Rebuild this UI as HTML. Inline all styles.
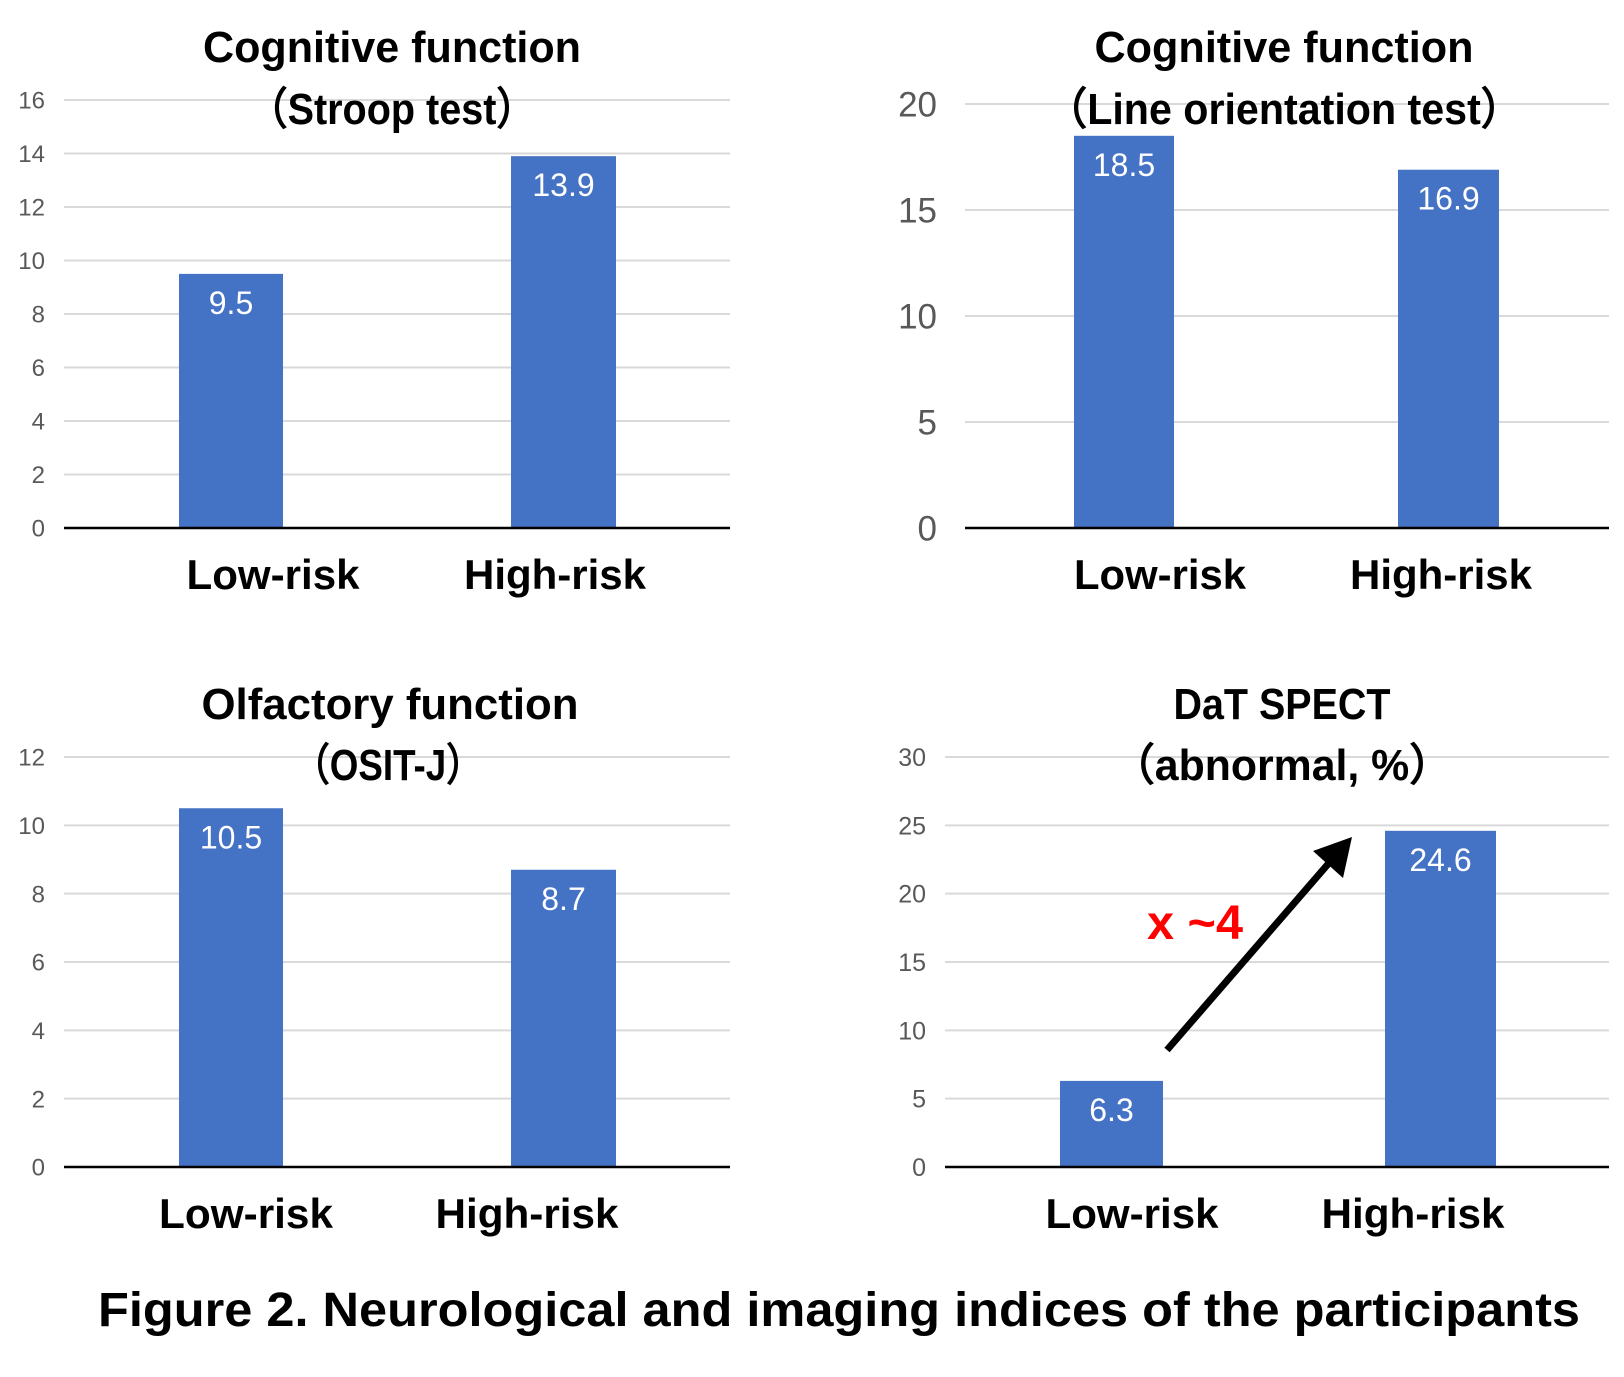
<!DOCTYPE html>
<html><head><meta charset="utf-8"><style>
body{margin:0;background:#fff;}
svg{display:block;font-family:"Liberation Sans",sans-serif;}
</style></head><body>
<svg id="fig" width="1624" height="1377" viewBox="0 0 1624 1377">
<g id="root"></g>
<text x="839" y="1326" text-anchor="middle" font-size="48" font-weight="bold" textLength="1482" lengthAdjust="spacingAndGlyphs" fill="#000">Figure 2. Neurological and imaging indices of the participants</text>
</svg>
<script>
const categories = ["Low-risk", "High-risk"];
const stroopValues = [9.5, 13.9];
const stroopTicks = [0, 2, 4, 6, 8, 10, 12, 14, 16];
const lineValues = [18.5, 16.9];
const lineTicks = [0, 5, 10, 15, 20];
const ositValues = [10.5, 8.7];
const ositTicks = [0, 2, 4, 6, 8, 10, 12];
const datValues = [6.3, 24.6];
const datTicks = [0, 5, 10, 15, 20, 25, 30];

const NS = "http://www.w3.org/2000/svg";
const root = document.getElementById("root");
function mk(tag, attrs, parent) {
  const e = document.createElementNS(NS, tag);
  for (const k in attrs) e.setAttribute(k, attrs[k]);
  (parent || root).appendChild(e);
  return e;
}
const panels = [
  {name:"stroop", values:stroopValues, ticks:stroopTicks, x0:64, x1:730, y0:528, yTop:100,
   bars:[[179,283],[511,616]], tickX:45, tickSize:24,
   titles:[["Cognitive function",392,62,378],["（Stroop test）",392,124,288]],
   cat:[[273,589,173],[555,589,182]], valSize:32},
  {name:"line-orientation", values:lineValues, ticks:lineTicks, x0:965, x1:1609, y0:528, yTop:104,
   bars:[[1074,1174],[1398,1499]], tickX:937, tickSize:35,
   titles:[["Cognitive function",1284,62,379],["（Line orientation test）",1284,124,476]],
   cat:[[1160,589,172],[1441,589,182]], valSize:32},
  {name:"osit-j", values:ositValues, ticks:ositTicks, x0:64, x1:730, y0:1167, yTop:757,
   bars:[[179,283],[511,616]], tickX:45, tickSize:24,
   titles:[["Olfactory function",390,719,377],["（OSIT-J）",388,780,190]],
   cat:[[246,1228,174],[527,1228,183]], valSize:32},
  {name:"dat-spect", values:datValues, ticks:datTicks, x0:945, x1:1609, y0:1167, yTop:757,
   bars:[[1060,1163],[1385,1496]], tickX:926, tickSize:25,
   titles:[["DaT SPECT",1282,719,217],["（abnormal, %）",1282,780,340]],
   cat:[[1132,1228,173],[1413,1228,183]], valSize:32}
];
panels.forEach(p => {
  const g = mk("g", {});
  
  
  const max = p.ticks[p.ticks.length - 1];
  const y = v => p.y0 - (v / max) * (p.y0 - p.yTop);
  p.ticks.forEach(t => {
    if (t > 0) {
      const l = mk("line", {x1:p.x0, x2:p.x1, y1:y(t), y2:y(t), stroke:"#d9d9d9", "stroke-width":2}, g);
      
      
    }
    const tx = mk("text", {x:p.tickX, y:y(t) + p.tickSize*0.36, "text-anchor":"end", "font-size":p.tickSize, fill:"#595959"}, g);
    tx.textContent = t;
    
    
  });
  p.values.forEach((v, i) => {
    const [bx0, bx1] = p.bars[i];
    const r = mk("rect", {x:bx0, y:y(v), width:bx1 - bx0, height:p.y0 - y(v), fill:"#4472c4"}, g);
    
    
    const vt = mk("text", {x:(bx0 + bx1) / 2, y:y(v) + 40, "text-anchor":"middle", "font-size":p.valSize, fill:"#fff"}, g);
    vt.textContent = v.toFixed(1);
    
    
    const [cx, cy, cw] = p.cat[i];
    const ct = mk("text", {x:cx, y:cy, "text-anchor":"middle", "font-size":42, "font-weight":"bold", fill:"#000", textLength:cw, lengthAdjust:"spacingAndGlyphs"}, g);
    ct.textContent = categories[i];
    
    
  });
  const ax = mk("line", {x1:p.x0, x2:p.x1, y1:p.y0, y2:p.y0, stroke:"#000", "stroke-width":2.5}, g);
  
  
  p.titles.forEach(([s, x, yy, w]) => {
    const t = mk("text", {x:x, y:yy, "text-anchor":"middle", "font-size":44, "font-weight":"bold", fill:"#000", textLength:w, lengthAdjust:"spacingAndGlyphs"}, g);
    t.textContent = s;
    
    
  });
});
// arrow annotation
const arr = mk("line", {x1:1167, y1:1050, x2:1335, y2:856, stroke:"#000", "stroke-width":7});


const head = mk("polygon", {points:"1352,837 1343,878 1313,851", fill:"#000"});


const xt = mk("text", {x:1147, y:939, "font-size":48, "font-weight":"bold", fill:"#ff0000", textLength:96, lengthAdjust:"spacingAndGlyphs"});
xt.textContent = "x ~4";


</script>
</body></html>
